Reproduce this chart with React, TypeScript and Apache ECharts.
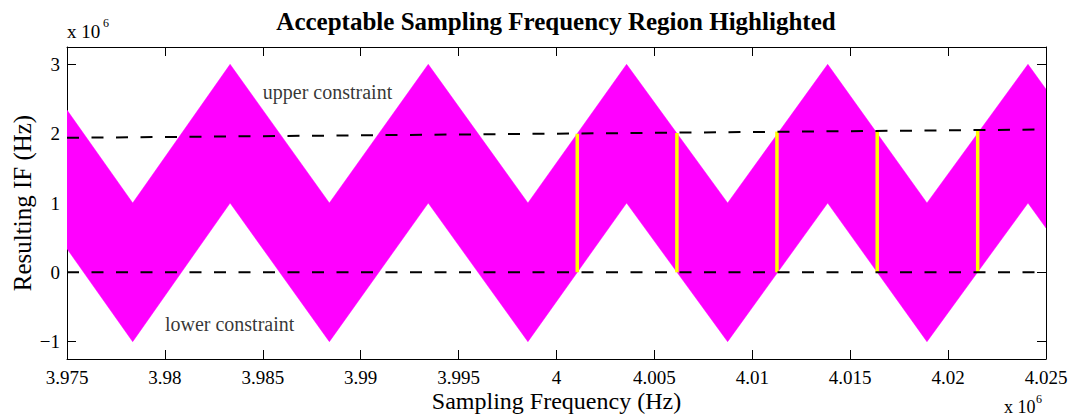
import React, { useEffect, useRef } from "react";
import * as echarts from "echarts";

// Vertices of the feasible IF band (Hz) over sampling frequency (Hz)
const bandFreq = [3975000, 3978355, 3983330, 3988400, 3993450, 3998540, 4003580, 4008740, 4013850, 4018920, 4024080, 4025000];
const bandUpper = [2.34e6, 1e6, 3e6, 1e6, 3e6, 1e6, 3e6, 1e6, 3e6, 1e6, 3e6, 2.64e6];
const bandLower = [0.34e6, -1e6, 1e6, -1e6, 1e6, -1e6, 1e6, -1e6, 1e6, -1e6, 1e6, 0.64e6];

// Constraint lines
const constraintFreq = [3975000, 4025000];
const upperConstraint = [1.94e6, 2.06e6];
const lowerConstraint = [0, 0];

// Acceptable sampling frequencies (highlighted)
const acceptFreq = [4001060, 4006150, 4011260, 4016380, 4021510];
const acceptTop = [2.0e6, 2.01e6, 2.03e6, 2.04e6, 2.05e6];

const yTicks = [-1e6, 0, 1e6, 2e6, 3e6];

const FONT = "'Liberation Serif', 'Times New Roman', serif";

const fmtX = (v: number) => String(Number((v / 1e6).toFixed(4)));
const fmtY = (v: number) => {
  const n = Math.round(v / 1e6);
  return n < 0 ? "\u2212" + Math.abs(n) : String(n);
};

export default function App() {
  const ref = useRef<HTMLDivElement>(null);

  useEffect(() => {
    if (!ref.current) return;
    const chart = echarts.init(ref.current, undefined, { renderer: "svg" });

    const xMin = 3975000;
    const xMax = 4025000;
    const yMin = -1.25e6;
    const yMax = 3.25e6;

    const axisLine = { show: true, onZero: false, lineStyle: { color: "#000", width: 1 } };
    const axisTick = { show: true, inside: true, length: 9, lineStyle: { color: "#000", width: 1 } };

    chart.setOption({
      animation: false,
      backgroundColor: "#fff",
      title: {
        text: "Acceptable Sampling Frequency Region Highlighted",
        left: 556,
        top: 9,
        textAlign: "center",
        padding: 0,
        textStyle: { fontFamily: FONT, fontSize: 25, fontWeight: "bold", color: "#000" },
      },
      grid: { left: 67, right: 30, top: 47, bottom: 59, containLabel: false, outerBoundsMode: "none" },
      xAxis: [
        {
          type: "value",
          min: xMin,
          max: xMax,
          interval: 5000,
          position: "bottom",
          axisLine,
          axisTick,
          splitLine: { show: false },
          axisLabel: { formatter: fmtX, fontFamily: FONT, fontSize: 19, color: "#000", margin: 9 },
          name: "Sampling Frequency (Hz)",
          nameLocation: "middle",
          nameGap: 30,
          nameMoveOverlap: false,
          nameTextStyle: { fontFamily: FONT, fontSize: 24, color: "#000" },
        },
        {
          type: "value",
          min: xMin,
          max: xMax,
          interval: 5000,
          position: "top",
          axisLine,
          axisTick,
          splitLine: { show: false },
          axisLabel: { show: false },
        },
      ],
      yAxis: [
        {
          type: "value",
          min: yMin,
          max: yMax,
          position: "left",
          axisLine,
          axisTick: { ...axisTick, customValues: yTicks },
          splitLine: { show: false },
          axisLabel: { customValues: yTicks, formatter: fmtY, fontFamily: FONT, fontSize: 19, color: "#000", margin: 7 },
          name: "Resulting IF (Hz)",
          nameLocation: "middle",
          nameGap: 32,
          nameMoveOverlap: false,
          nameTextStyle: { fontFamily: FONT, fontSize: 25, color: "#000" },
        },
        {
          type: "value",
          min: yMin,
          max: yMax,
          position: "right",
          axisLine,
          axisTick: { ...axisTick, customValues: yTicks },
          splitLine: { show: false },
          axisLabel: { show: false },
        },
      ],
      graphic: [
        { type: "text", left: 67, top: 22, style: { text: "x 10", fontFamily: FONT, fontSize: 19, fill: "#000" } },
        { type: "text", left: 103, top: 17, style: { text: "6", fontFamily: FONT, fontSize: 12, fill: "#000" } },
        { type: "text", left: 1004, top: 398, style: { text: "x 10", fontFamily: FONT, fontSize: 18, fill: "#000" } },
        { type: "text", left: 1036, top: 393, style: { text: "6", fontFamily: FONT, fontSize: 12, fill: "#000" } },
      ],
      series: [
        {
          type: "custom",
          name: "band",
          xAxisIndex: 0,
          yAxisIndex: 0,
          clip: true,
          silent: true,
          data: [[bandFreq[0], bandUpper[0]]],
          encode: { x: 0, y: 1 },
          renderItem: (_params: any, api: any) => {
            const top = bandFreq.map((f, i) => api.coord([f, bandUpper[i]]));
            const bottom = bandFreq.map((f, i) => api.coord([f, bandLower[i]])).reverse();
            return {
              type: "polygon",
              shape: { points: top.concat(bottom) },
              style: { fill: "#ff00ff", stroke: "#ff00ff", lineWidth: 0.5 },
            };
          },
        },
        {
          type: "custom",
          name: "acceptable",
          xAxisIndex: 0,
          yAxisIndex: 0,
          silent: true,
          data: acceptFreq.map((f, i) => [f, 0, acceptTop[i]]),
          encode: { x: 0, y: [1, 2] },
          renderItem: (_params: any, api: any) => {
            const p0 = api.coord([api.value(0), api.value(1)]);
            const p1 = api.coord([api.value(0), api.value(2)]);
            return {
              type: "line",
              shape: { x1: p0[0], y1: p0[1], x2: p1[0], y2: p1[1] },
              style: { stroke: "#ffff00", lineWidth: 3.5 },
            };
          },
        },
        {
          type: "line",
          name: "upper constraint",
          symbol: "none",
          silent: true,
          data: constraintFreq.map((f, i) => [f, upperConstraint[i]]),
          lineStyle: { color: "#000", width: 2, type: [12, 12.5] },
        },
        {
          type: "line",
          name: "lower constraint",
          symbol: "none",
          silent: true,
          data: constraintFreq.map((f, i) => [f, lowerConstraint[i]]),
          lineStyle: { color: "#000", width: 2, type: [12, 12.5] },
        },
        {
          type: "scatter",
          name: "annotations",
          symbolSize: 0,
          silent: true,
          data: [
            { name: "upper constraint", value: [3985000, 2.6e6] },
            { name: "lower constraint", value: [3980000, -0.74e6] },
          ],
          label: {
            show: true,
            position: [0, 0],
            align: "left",
            verticalAlign: "middle",
            formatter: (p: any) => p.name,
            fontFamily: FONT,
            fontSize: 20,
            color: "#000",
          },
        },
      ],
    });

    return () => chart.dispose();
  }, []);

  return (
    <div
      ref={ref}
      style={{ position: "fixed", left: 0, top: 0, width: 1076, height: 418, background: "#fff" }}
    />
  );
}
